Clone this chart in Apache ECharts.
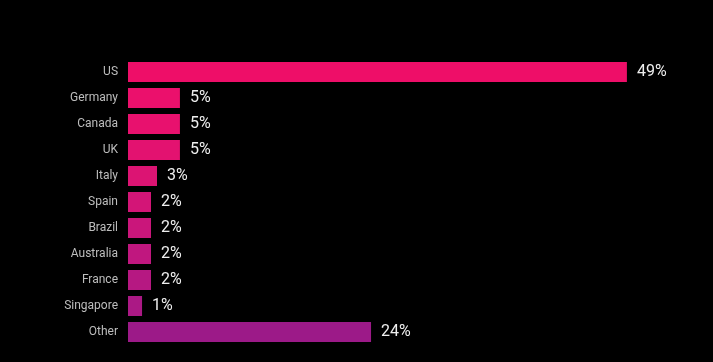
<!DOCTYPE html>
<html>
<head>
<meta charset="utf-8">
<script src="https://cdn.jsdelivr.net/npm/echarts@6/dist/echarts.min.js"></script>
<style>html,body{margin:0;padding:0;background:#000;}#c{width:713px;height:362px;}</style>
</head>
<body>
<div id="c"></div>
<script>
const categories = ["US","Germany","Canada","UK","Italy","Spain","Brazil","Australia","France","Singapore","Other"];
const values = [49, 5.1, 5.1, 5.1, 2.85, 2.26, 2.26, 2.26, 2.26, 1.38, 23.87];
const barColors = ["#ee0e68","#eb106c","#e8116e","#e31270","#dc1473","#d31577","#ca167b","#c0177f","#b61882","#ab1985","#9c1a88"];

const chart = echarts.init(document.getElementById('c'));
chart.setOption({
  backgroundColor: '#000',
  animation: false,
  grid: { left: 128, right: 25, top: 59, bottom: 17, containLabel: false },
  xAxis: { type: 'value', min: 0, max: 55, show: false },
  yAxis: {
    type: 'category', data: categories, inverse: true,
    axisLine: { show: false }, axisTick: { show: false },
    axisLabel: { color: '#bdbdbd', fontSize: 12, fontFamily: 'Roboto', margin: 10 }
  },
  series: [{
    type: 'bar',
    barWidth: 20,
    data: values.map((v, i) => ({ value: v, itemStyle: { color: barColors[i] } })),
    label: {
      show: true, position: 'right', distance: 10,
      color: '#eeeeee', fontSize: 16, fontFamily: 'Roboto', fontWeight: 'normal',
      formatter: p => Math.round(p.value) + '%'
    }
  }]
});
</script>
</body>
</html>
